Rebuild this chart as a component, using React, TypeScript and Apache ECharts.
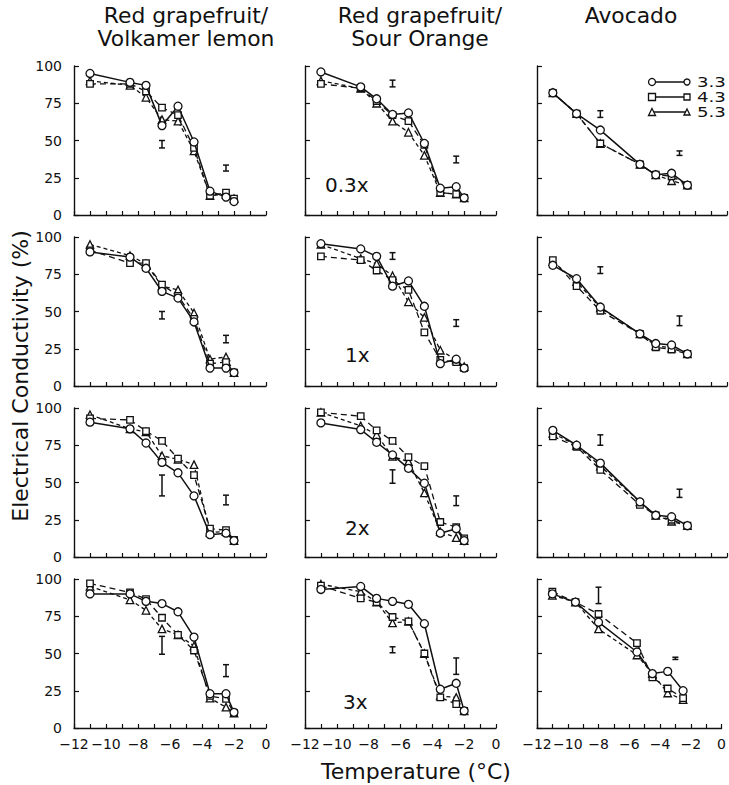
import React, { useEffect, useRef } from 'react';
import * as echarts from 'echarts';

// Temperatures (°C) at which samples were measured
const tempsGrapefruit = [-11, -8.5, -7.5, -6.5, -5.5, -4.5, -3.5, -2.5, -2];
const tempsAvocado = [-11, -9.5, -8, -5.5, -4.5, -3.5, -2.5];

const yTicks = [0, 25, 50, 75, 100];
const xRange = [-12, 0];

const columnTitles = [
  ['Red grapefruit/', 'Volkamer lemon'],
  ['Red grapefruit/', 'Sour Orange'],
  ['Avocado'],
];
const rateLabels = ['0.3x', '1x', '2x', '3x'];
const phLabels = ['3.3', '4.3', '5.3'];

// [pH 3.3 (circle), pH 4.3 (square), pH 5.3 (triangle)]
const volkamer03 = [
  [95, 89, 87, 60, 73, 49, 16, 12, 9],
  [88, 88, 83, 72, 67, 45, 13, 15, 11],
  [90, 87, 79, 64, 63, 43, 13, 14, 11],
];
const volkamer1 = [
  [90, 86.5, 79, 63.5, 59, 43, 12, 12, 9],
  [91, 82.5, 82.5, 68, 60.5, 45, 15, 16, 9],
  [95, 87.5, 82, 67, 64.5, 49, 18, 19.5, 9],
];
const volkamer2 = [
  [90.5, 86, 76.5, 63.5, 56.5, 41, 15, 16, 11],
  [93, 92, 84.5, 78, 66, 55, 19, 18, 11.5],
  [95.5, 86, 84, 68, 65.5, 62, 16.5, 17, 11],
];
const volkamer3 = [
  [90, 90, 85, 83.5, 78, 61, 23, 23, 10.5],
  [97, 91, 86.5, 74, 62.5, 52, 21.5, 19.5, 10],
  [95, 86, 79, 66.5, 62.5, 55, 20, 14, 10],
];
const sour03 = [
  [96, 86, 78, 67.5, 68.5, 48, 18, 19, 11.5],
  [88, 85, 76.5, 67, 63, 47, 15, 14, 11.5],
  [90, 85, 75, 63, 55.5, 40, 15, 14, 11.5],
];
const sour1 = [
  [95.5, 92, 87, 67, 70.5, 53.5, 15, 18, 12],
  [87, 84.5, 77.5, 71, 64.5, 36, 17.5, 16, 12],
  [95, 85.5, 82, 74, 56.5, 46, 24, 17.5, 13],
];
const sour2 = [
  [90, 85.5, 77, 68.5, 59.5, 49.5, 16, 19, 11],
  [97, 94.5, 85, 78, 67, 61, 23.5, 20, 12.5],
  [97, 88, 82, 67.5, 64, 43, 17, 13, 11],
];
const sour3 = [
  [93, 95, 87, 85, 83, 70, 26, 30, 11.5],
  [95.5, 87, 84.5, 74.5, 71.5, 50, 20.5, 16, 11.5],
  [96.5, 91.5, 84.5, 70.5, 71.5, 50, 21.5, 20.5, 11.5],
];
const avocado03 = [
  [82, 68, 57, 34, 27, 28, 20],
  [82, 68, 48, 34, 27, 26, 20],
  [82, 68, 48, 34, 27, 23, 20],
];
const avocado1 = [
  [81, 72, 53, 35, 28.5, 27.5, 21.5],
  [84.5, 67, 50.5, 35, 26, 24.5, 21.5],
  [83.5, 70, 52.5, 35, 27, 25.5, 21.5],
];
const avocado2 = [
  [85, 75, 63, 37, 28, 27, 21],
  [81, 74, 58.5, 35, 28, 25, 21],
  [83, 75, 61, 37, 28, 24, 21],
];
const avocado3 = [
  [90, 84.5, 71, 51, 36.5, 38, 25],
  [91.5, 84.5, 76.5, 57, 34, 26.5, 20],
  [89, 84.5, 66.5, 49, 36.5, 23.5, 19],
];

// Error bars: [temperature, low, high]
const volkamer03Se = [[-6.5, 45, 50], [-2.5, 29.5, 33.5]];
const volkamer1Se = [[-6.5, 45, 50], [-2.5, 29, 34]];
const volkamer2Se = [[-6.5, 41, 55], [-2.5, 35, 41.5]];
const volkamer3Se = [[-6.5, 49.5, 61.5], [-2.5, 34.5, 42.5]];
const sour03Se = [[-6.5, 86, 90.5], [-2.5, 35, 39.5]];
const sour1Se = [[-6.5, 85, 89.5], [-2.5, 40, 44.5]];
const sour2Se = [[-6.5, 49.5, 58.5], [-2.5, 34.5, 41]];
const sour3Se = [[-6.5, 50.5, 54.5], [-2.5, 36, 47]];
const avocado03Se = [[-8, 65.5, 70], [-3, 40, 43]];
const avocado1Se = [[-8, 75.5, 80], [-3, 40.5, 47]];
const avocado2Se = [[-8, 75, 82], [-3, 40, 45.5]];
const avocado3Se = [[-8, 83.5, 94.5], [-3, 46, 47.5]];

const panels = [
  [volkamer03, sour03, avocado03],
  [volkamer1, sour1, avocado1],
  [volkamer2, sour2, avocado2],
  [volkamer3, sour3, avocado3],
];
const panelSe = [
  [volkamer03Se, sour03Se, avocado03Se],
  [volkamer1Se, sour1Se, avocado1Se],
  [volkamer2Se, sour2Se, avocado2Se],
  [volkamer3Se, sour3Se, avocado3Se],
];

// layout
const colLeft = [74, 305, 537];
const colWidth = [192, 191, 190];
const rowTop = [66, 237, 408, 579];
const rowHeight = 149;

const FONT = "'DejaVu Sans', sans-serif";
const INK = '#111';

const symbols = ['circle', 'rect', 'triangle'];
const symbolSizes = [8, 6.5, 7.5];
const lineTypes: any[] = ['solid', [6, 4], [4, 3]];

function textStyle(text: string, size: number, align: string) {
  return {
    text,
    font: `${size}px ${FONT}`,
    fill: INK,
    align,
    verticalAlign: 'middle',
    textAlign: align,
    textVerticalAlign: 'middle',
  };
}

function buildOption() {
  const grid: any[] = [];
  const xAxis: any[] = [];
  const yAxis: any[] = [];
  const series: any[] = [];
  const graphic: any[] = [];

  for (let r = 0; r < 4; r++) {
    for (let c = 0; c < 3; c++) {
      const idx = r * 3 + c;
      grid.push({
        left: colLeft[c],
        top: rowTop[r],
        width: colWidth[c],
        height: rowHeight,
        containLabel: false,
      });
      xAxis.push({
        type: 'value',
        gridIndex: idx,
        position: 'bottom',
        min: xRange[0],
        max: xRange[1],
        interval: 2,
        axisLine: { show: true, onZero: false, lineStyle: { color: INK, width: 1.4 } },
        axisTick: { show: true, inside: true, length: 4, lineStyle: { color: INK, width: 1.2 } },
        minorTick: { show: true, splitNumber: 2, length: 4, lineStyle: { color: INK, width: 1.2 } },
        splitLine: { show: false },
        axisLabel: {
          show: r === 3,
          fontFamily: FONT,
          fontSize: 14,
          color: INK,
          margin: 9,
          formatter: (v: number) => (v === 0 ? '0' : '\u2212' + Math.abs(v)),
        },
      });
      yAxis.push({
        type: 'value',
        gridIndex: idx,
        position: 'left',
        min: yTicks[0],
        max: yTicks[yTicks.length - 1],
        interval: 25,
        axisLine: { show: true, onZero: false, lineStyle: { color: INK, width: 1.4 } },
        axisTick: { show: true, inside: true, length: 5, lineStyle: { color: INK, width: 1.2 } },
        splitLine: { show: false },
        axisLabel: {
          show: c === 0,
          fontFamily: FONT,
          fontSize: 14,
          color: INK,
          margin: 12,
        },
      });

      const xs = c === 2 ? tempsAvocado : tempsGrapefruit;
      const vals = panels[r][c];
      for (let k = 2; k >= 0; k--) {
        series.push({
          type: 'line',
          name: phLabels[k],
          xAxisIndex: idx,
          yAxisIndex: idx,
          data: xs.map((x, i) => [x, vals[k][i]]),
          symbol: symbols[k],
          symbolSize: symbolSizes[k],
          showSymbol: true,
          lineStyle: { color: INK, width: k === 0 ? 1.5 : 1.3, type: lineTypes[k] },
          itemStyle: { color: '#fff', borderColor: INK, borderWidth: 1.3 },
          z: 3 + (2 - k),
        });
      }
      series.push({
        type: 'custom',
        xAxisIndex: idx,
        yAxisIndex: idx,
        data: panelSe[r][c],
        encode: { x: 0, y: [1, 2] },
        renderItem: (params: any, api: any) => {
          const x = api.value(0);
          const p1 = api.coord([x, api.value(1)]);
          const p2 = api.coord([x, api.value(2)]);
          const w = 3;
          const st = { stroke: INK, lineWidth: 1.5 };
          return {
            type: 'group',
            children: [
              { type: 'line', shape: { x1: p1[0], y1: p1[1], x2: p2[0], y2: p2[1] }, style: st },
              { type: 'line', shape: { x1: p1[0] - w, y1: p1[1], x2: p1[0] + w, y2: p1[1] }, style: st },
              { type: 'line', shape: { x1: p2[0] - w, y1: p2[1], x2: p2[0] + w, y2: p2[1] }, style: st },
            ],
          };
        },
        z: 2,
      });
    }
  }

  // column titles
  const titleCenters = [186, 420, 631];
  columnTitles.forEach((lines, c) => {
    lines.forEach((t, j) => {
      graphic.push({
        type: 'text',
        x: titleCenters[c],
        y: 16 + j * 23,
        scaleX: 1.04,
        style: textStyle(t, 21, 'center'),
      });
    });
  });

  // rate labels inside column 2
  const rateLeft = [325, 345, 345, 343];
  const rateOffset = [30, 31, 29, 26];
  rateLabels.forEach((t, r) => {
    graphic.push({
      type: 'text',
      x: rateLeft[r],
      y: rowTop[r] + rowHeight - rateOffset[r],
      style: textStyle(t, 20, 'left'),
    });
  });

  // axis titles
  graphic.push({
    type: 'text',
    x: 20,
    y: 376,
    rotation: Math.PI / 2,
    style: textStyle('Electrical Conductivity (%)', 22, 'center'),
  });
  graphic.push({
    type: 'text',
    x: 416,
    y: 771,
    style: textStyle('Temperature (\u00B0C)', 22, 'center'),
  });

  // legend in Avocado top panel
  const legY = [82, 97, 112];
  const mk = (k: number, cx: number, cy: number, s: number) => {
    const st = { fill: '#fff', stroke: INK, lineWidth: 1.3 };
    if (k === 0) return { type: 'circle', shape: { cx, cy, r: s / 2 }, style: st, z: 10 };
    if (k === 1) return { type: 'rect', shape: { x: cx - s / 2, y: cy - s / 2, width: s, height: s }, style: st, z: 10 };
    return {
      type: 'polygon',
      shape: { points: [[cx, cy - s / 2], [cx + s / 2, cy + s / 2], [cx - s / 2, cy + s / 2]] },
      style: st,
      z: 10,
    };
  };
  phLabels.forEach((t, k) => {
    const y = legY[k];
    graphic.push({
      type: 'line',
      shape: { x1: 652, y1: y, x2: 686, y2: y },
      style: { stroke: INK, lineWidth: 1.3 },
      z: 9,
    });
    graphic.push(mk(k, 652, y, 7));
    graphic.push(mk(k, 687, y, 6));
    graphic.push({
      type: 'text',
      x: 697,
      y,
      scaleX: 1.3,
      style: textStyle(t, 14, 'left'),
      z: 10,
    });
  });

  return {
    animation: false,
    backgroundColor: '#fff',
    grid,
    xAxis,
    yAxis,
    series,
    graphic,
  };
}

export default function App() {
  const ref = useRef<HTMLDivElement>(null);
  useEffect(() => {
    document.body.style.margin = '0';
    if (!ref.current) return;
    const chart = echarts.init(ref.current, undefined, { renderer: 'svg' });
    chart.setOption(buildOption() as any);
    return () => chart.dispose();
  }, []);
  return <div ref={ref} style={{ width: 729, height: 785 }} />;
}
